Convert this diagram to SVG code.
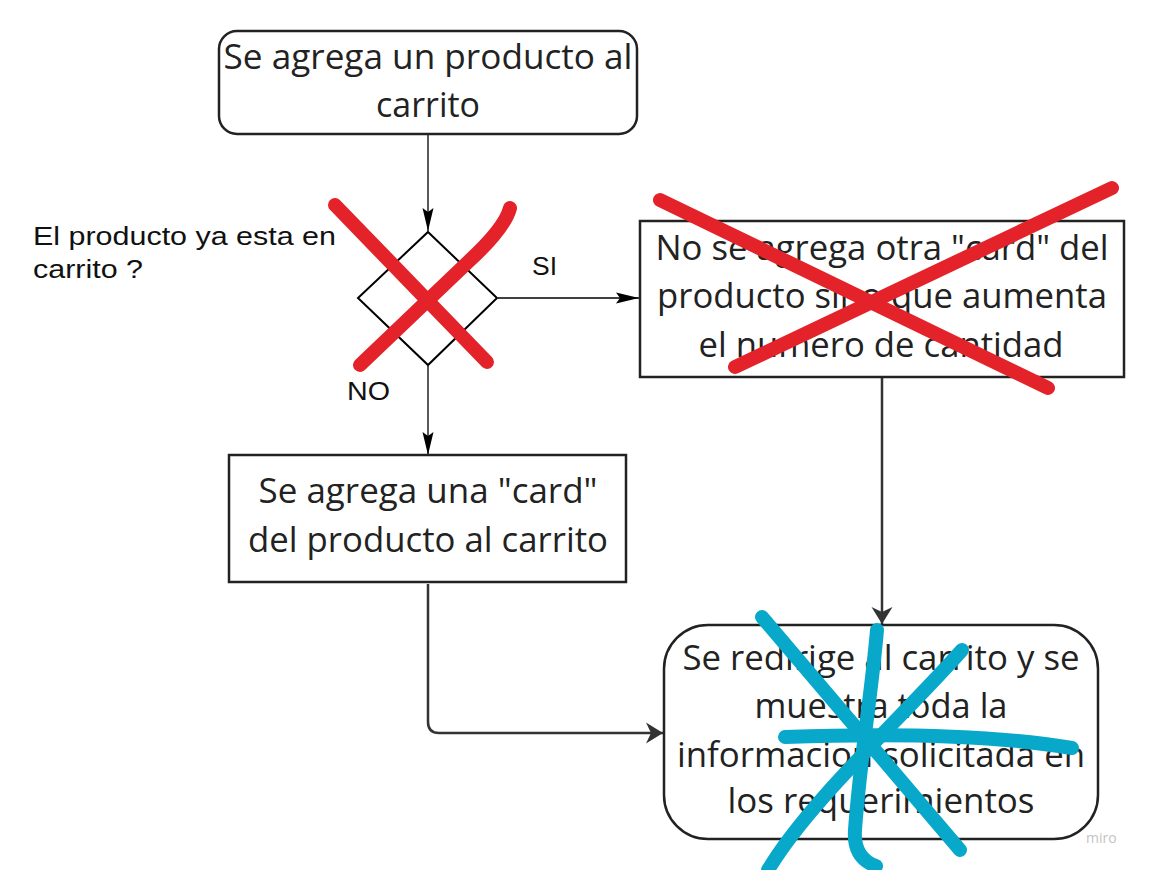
<svg xmlns="http://www.w3.org/2000/svg" width="1149" height="870" viewBox="0 0 1149 870">
<defs>
<style>
.node{fill:#fff;stroke:#222;stroke-width:2.5}
.t{font-family:"Open Sans","Noto Sans",sans-serif;font-size:34.5px;fill:#222;text-anchor:middle}
.lbl{font-family:"Liberation Sans",Arial,sans-serif;font-size:25px;fill:#111}
.thin{fill:none;stroke:#000;stroke-width:1.3}
.thick{fill:none;stroke:#333;stroke-width:2.5}
.red{fill:none;stroke:#e3222a;stroke-width:14;stroke-linecap:round;stroke-linejoin:round}
.blue{fill:none;stroke:#08a8ca;stroke-width:14;stroke-linecap:round;stroke-linejoin:round}
</style>
<marker id="ah" markerUnits="userSpaceOnUse" markerWidth="24" markerHeight="12" refX="23" refY="6" orient="auto" viewBox="0 0 24 12">
<path d="M0,0.5 L23,6 L0,11.5 L4,6 Z" fill="#000"/>
</marker>
<marker id="ahT" markerUnits="userSpaceOnUse" markerWidth="18" markerHeight="22" refX="17" refY="11" orient="auto" viewBox="0 0 18 22">
<path d="M0,0.5 L17,11 L0,21.5 L5,11 Z" fill="#333"/>
</marker>
</defs>

<g id="connectors">
<path class="thin" d="M428,135 L428,231" marker-end="url(#ah)"/>
<path class="thin" d="M498,298 L639,298" marker-end="url(#ah)"/>
<path class="thin" d="M428,366 L428,455" marker-end="url(#ah)"/>
<path class="thick" d="M882,378 L882,624" marker-end="url(#ahT)"/>
<path class="thick" d="M428,584 L428,722 Q428,733 439,733 L663,733" marker-end="url(#ahT)"/>
</g>

<g id="start">
<rect class="node" x="219" y="31" width="418" height="103" rx="18"/>
<text class="t" x="428" y="69" textLength="409" lengthAdjust="spacingAndGlyphs">Se agrega un producto al</text>
<text class="t" x="428" y="117" textLength="104" lengthAdjust="spacingAndGlyphs">carrito</text>
</g>

<g id="decision">
<path d="M428,232 L497,298 L428,365 L358,298 Z" fill="#fff" stroke="#000" stroke-width="2"/>
</g>

<g id="decision-label">
<text class="lbl" x="33" y="245" textLength="303" lengthAdjust="spacingAndGlyphs">El producto ya esta en</text>
<text class="lbl" x="33" y="278" textLength="110" lengthAdjust="spacingAndGlyphs">carrito ?</text>
<text class="lbl" x="532" y="275" textLength="25" lengthAdjust="spacingAndGlyphs">SI</text>
<text class="lbl" x="347" y="400" textLength="43" lengthAdjust="spacingAndGlyphs">NO</text>
</g>

<g id="increase">
<rect class="node" x="640" y="221" width="484" height="156"/>
<text class="t" x="882" y="260" textLength="453" lengthAdjust="spacingAndGlyphs">No se agrega otra "card" del</text>
<text class="t" x="882" y="308" textLength="450" lengthAdjust="spacingAndGlyphs">producto sino que aumenta</text>
<text class="t" x="881" y="357" textLength="365" lengthAdjust="spacingAndGlyphs">el numero de cantidad</text>
</g>

<g id="add-card">
<rect class="node" x="229" y="455" width="397" height="127"/>
<text class="t" x="428" y="503" textLength="339" lengthAdjust="spacingAndGlyphs">Se agrega una "card"</text>
<text class="t" x="428" y="552" textLength="360" lengthAdjust="spacingAndGlyphs">del producto al carrito</text>
</g>

<g id="redirect">
<rect class="node" x="664" y="625" width="434" height="214" rx="44"/>
<text class="t" x="881" y="670" textLength="397" lengthAdjust="spacingAndGlyphs">Se redirige al carrito y se</text>
<text class="t" x="881" y="718" textLength="253" lengthAdjust="spacingAndGlyphs">muestra toda la</text>
<text class="t" x="881" y="767" textLength="408" lengthAdjust="spacingAndGlyphs">informacion solicitada en</text>
<text class="t" x="881" y="813" textLength="307" lengthAdjust="spacingAndGlyphs">los requerimientos</text>
</g>

<g id="strikes">
<path class="red" d="M335,205 L487,362"/>
<path class="red" d="M360,365 L468,262 Q505,228 510,208"/>
<path class="red" d="M660,200 L1048,388"/>
<path class="red" d="M735,367 L1112,188"/>
<path class="blue" d="M762,617 L960,850"/>
<path class="blue" d="M877,630 C872,690 860,760 855,830 Q853,858 876,866"/>
<path class="blue" d="M962,650 C900,720 810,800 768,870"/>
<path class="blue" d="M785,737 C900,733 1000,736 1072,748"/>
</g>

<text x="1086" y="843" font-family="'Open Sans',sans-serif" font-size="14" fill="#c4c4c4">miro</text>
</svg>
